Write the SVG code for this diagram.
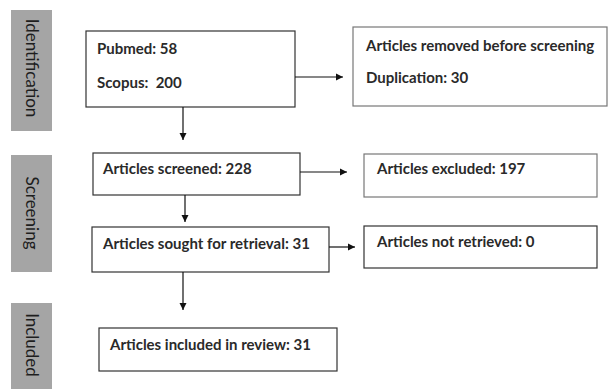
<svg xmlns="http://www.w3.org/2000/svg" width="611" height="389" viewBox="0 0 611 389">
<style>
.bar{fill:#a5a5a5;}
.bt{font-family:Lato,"Liberation Sans",sans-serif;font-size:17px;fill:#1e1e1e;text-anchor:middle;}
.box{fill:#fff;stroke:#333;stroke-width:1.2;}
.box2{fill:#fff;stroke:#777;stroke-width:1.2;}
.t{font-family:Lato,"Liberation Sans",sans-serif;font-size:15px;font-weight:bold;fill:#2a2a2a;white-space:pre;}
.c{stroke:#111;stroke-width:1.2;fill:none;marker-end:url(#ah);}
</style>
<defs>
<marker id="ah" markerWidth="8" markerHeight="8" refX="7" refY="4" orient="auto" markerUnits="userSpaceOnUse">
<path d="M0,0.5 L7,4 L0,7.5 Z" fill="#111"/>
</marker>
</defs>
<rect width="611" height="389" fill="#fff"/>
<g id="stage-identification">
<rect class="bar" x="11" y="10" width="41" height="121"/>
<text class="bt" transform="translate(26,68) rotate(90)">Identification</text>
</g>
<g id="stage-screening">
<rect class="bar" x="11" y="155" width="41" height="117"/>
<text class="bt" transform="translate(26,213) rotate(90)">Screening</text>
</g>
<g id="stage-included">
<rect class="bar" x="11" y="303" width="41" height="86"/>
<text class="bt" transform="translate(26,345) rotate(90)">Included</text>
</g>
<g id="n-sources">
<rect class="box" x="86" y="31" width="209" height="76"/>
<text class="t" x="97" y="54">Pubmed: 58</text>
<text class="t" x="97" y="88" xml:space="preserve">Scopus:  200</text>
</g>
<g id="n-removed">
<rect class="box2" x="353" y="27" width="254" height="79"/>
<text class="t" x="366" y="51">Articles removed before screening</text>
<text class="t" x="366" y="83">Duplication: 30</text>
</g>
<g id="n-screened">
<rect class="box" x="93" y="153" width="207" height="42"/>
<text class="t" x="103" y="174">Articles screened: 228</text>
</g>
<g id="n-excluded">
<rect class="box2" x="364" y="154" width="233" height="43"/>
<text class="t" x="377" y="174">Articles excluded: 197</text>
</g>
<g id="n-sought">
<rect class="box" x="92" y="227" width="237" height="45"/>
<text class="t" x="103" y="249">Articles sought for retrieval: 31</text>
</g>
<g id="n-notretrieved">
<rect class="box" x="364" y="226" width="233" height="42"/>
<text class="t" x="377" y="247">Articles not retrieved: 0</text>
</g>
<g id="n-included">
<rect class="box" x="99" y="328" width="238" height="43"/>
<text class="t" x="110" y="350">Articles included in review: 31</text>
</g>
<g id="connectors">
<line class="c" x1="295" y1="77" x2="343" y2="77"/>
<line class="c" x1="183" y1="107" x2="183" y2="140"/>
<line class="c" x1="300" y1="172" x2="347" y2="172"/>
<line class="c" x1="185" y1="195" x2="185" y2="222"/>
<line class="c" x1="329" y1="247" x2="355" y2="247"/>
<line class="c" x1="183" y1="272" x2="183" y2="310"/>
</g>
</svg>
